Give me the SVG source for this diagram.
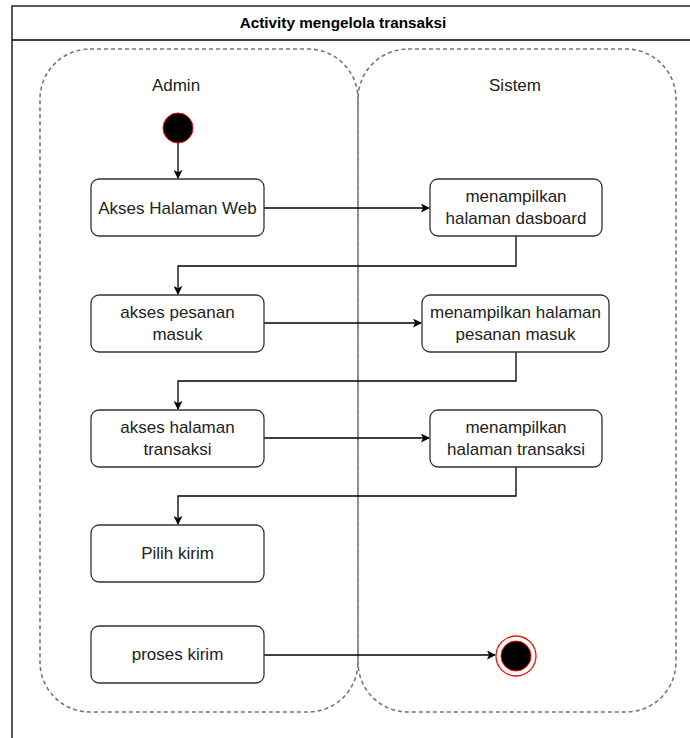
<svg xmlns="http://www.w3.org/2000/svg" width="690" height="738" viewBox="0 0 690 738">
  <defs>
    <style>
      .frame { fill: #ffffff; stroke: #000000; stroke-width: 1.3; }
      .lane { fill: none; stroke: #777777; stroke-width: 1.6; stroke-dasharray: 4 3; }
      .act { fill: #ffffff; stroke: #333333; stroke-width: 1.3; }
      .label { font-family: "Liberation Sans", Arial, sans-serif; font-size: 17px; fill: #222222; text-anchor: middle; }
      .title { font-family: "Liberation Sans", Arial, sans-serif; font-size: 15.3px; font-weight: bold; fill: #000000; text-anchor: middle; }
      .edge { fill: none; stroke: #000000; stroke-width: 1.3; }
    </style>
    <marker id="arrow" viewBox="0 0 10 10" refX="9" refY="5" markerWidth="9" markerHeight="9" markerUnits="userSpaceOnUse" orient="auto">
      <path d="M0,0 L10,5 L0,10 L2.5,5 Z" fill="#000000"/>
    </marker>
  </defs>

  <rect width="690" height="738" fill="#ffffff"/>

  <!-- outer frame with header -->
  <g id="frame">
    <rect class="frame" x="12" y="6" width="690" height="750"/>
    <line x1="12" y1="40" x2="690" y2="40" stroke="#000000" stroke-width="1.3"/>
    <text class="title" x="343" y="28">Activity mengelola transaksi</text>
  </g>

  <!-- swimlanes -->
  <g id="lane-admin">
    <rect class="lane" x="40" y="49" width="318" height="663" rx="50" ry="50"/>
    <text class="label" x="176" y="91">Admin</text>
  </g>
  <g id="lane-sistem">
    <rect class="lane" x="358" y="49" width="318" height="663" rx="50" ry="50"/>
    <text class="label" x="515" y="91">Sistem</text>
  </g>

  <!-- connectors -->
  <g id="connectors">
    <path class="edge" d="M178,143 L178,178" marker-end="url(#arrow)"/>
    <path class="edge" d="M264,208 L429,208" marker-end="url(#arrow)"/>
    <path class="edge" d="M516,236 L516,266 L178,266 L178,294" marker-end="url(#arrow)"/>
    <path class="edge" d="M264,323 L421,323" marker-end="url(#arrow)"/>
    <path class="edge" d="M516,352 L516,381 L178,381 L178,409" marker-end="url(#arrow)"/>
    <path class="edge" d="M264,438 L429,438" marker-end="url(#arrow)"/>
    <path class="edge" d="M516,467 L516,496 L178,496 L178,524" marker-end="url(#arrow)"/>
    <path class="edge" d="M264,655 L495,655" marker-end="url(#arrow)"/>
  </g>

  <!-- nodes -->
  <g id="start">
    <circle cx="178" cy="128" r="15" fill="#000000" stroke="#ff0000" stroke-width="1"/>
  </g>
  <g id="akses-web">
    <rect class="act" x="91" y="179" width="173" height="57" rx="8" ry="8"/>
    <text class="label" x="177.5" y="214">Akses Halaman Web</text>
  </g>
  <g id="tampil-dasboard">
    <rect class="act" x="430" y="179" width="172" height="57" rx="8" ry="8"/>
    <text class="label" x="516" y="202">menampilkan</text>
    <text class="label" x="516" y="224">halaman dasboard</text>
  </g>
  <g id="akses-pesanan">
    <rect class="act" x="91" y="295" width="173" height="57" rx="8" ry="8"/>
    <text class="label" x="177.5" y="318">akses pesanan</text>
    <text class="label" x="177.5" y="340">masuk</text>
  </g>
  <g id="tampil-pesanan">
    <rect class="act" x="422" y="295" width="187" height="57" rx="8" ry="8"/>
    <text class="label" x="515.5" y="318">menampilkan halaman</text>
    <text class="label" x="515.5" y="340">pesanan masuk</text>
  </g>
  <g id="akses-transaksi">
    <rect class="act" x="91" y="410" width="173" height="57" rx="8" ry="8"/>
    <text class="label" x="177.5" y="433">akses halaman</text>
    <text class="label" x="177.5" y="455">transaksi</text>
  </g>
  <g id="tampil-transaksi">
    <rect class="act" x="430" y="410" width="172" height="57" rx="8" ry="8"/>
    <text class="label" x="516" y="433">menampilkan</text>
    <text class="label" x="516" y="455">halaman transaksi</text>
  </g>
  <g id="pilih-kirim">
    <rect class="act" x="91" y="525" width="173" height="57" rx="8" ry="8"/>
    <text class="label" x="177.5" y="559">Pilih kirim</text>
  </g>
  <g id="proses-kirim">
    <rect class="act" x="91" y="626" width="173" height="57" rx="8" ry="8"/>
    <text class="label" x="177.5" y="660">proses kirim</text>
  </g>
  <g id="end">
    <circle cx="516" cy="656" r="20" fill="#ffffff" stroke="#ff0000" stroke-width="1.3"/>
    <circle cx="516" cy="656" r="15" fill="#000000" stroke="#ff0000" stroke-width="1"/>
  </g>
</svg>
